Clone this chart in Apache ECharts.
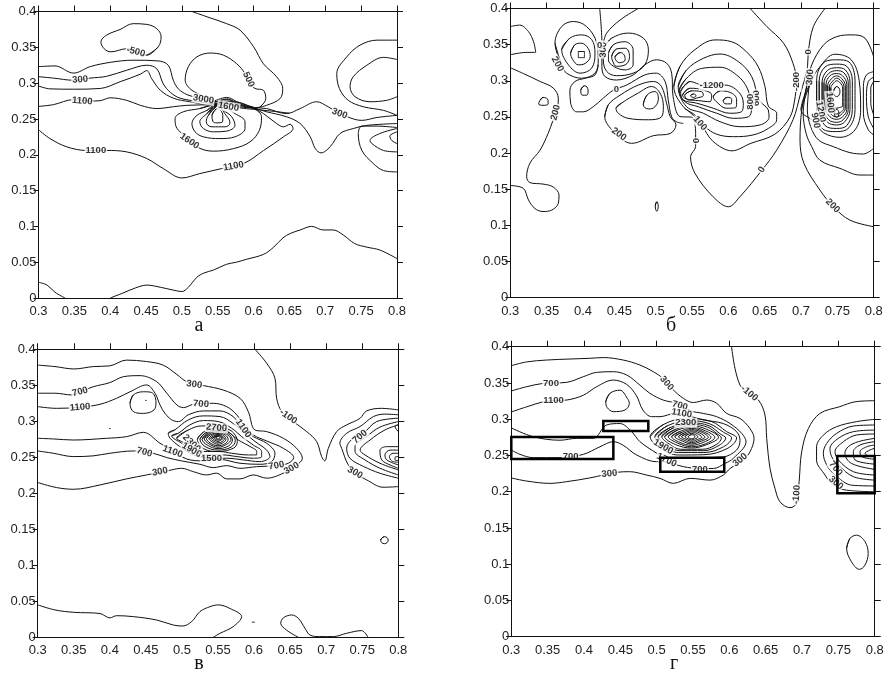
<!DOCTYPE html>
<html><head><meta charset="utf-8">
<style>html,body{margin:0;padding:0;background:#fff}#c{width:889px;height:674px}</style>
<script src="https://cdn.jsdelivr.net/npm/echarts@6/dist/echarts.min.js"></script>
</head><body><div id="c"></div>
<script>
const captions=['а','б','в','г'];
const xTicks={min:.3,max:.8,step:.05};
const yTicks={min:0,max:.4,step:.05};

/* ---------- panel а ---------- */
const aOpen=[
[[.3,.022],[.312,.018],[.323,.008],[.337,0]],
[[.4,0],[.418,.007],[.435,.014],[.451,.018],[.47,.015],[.488,.011],[.5,.009],[.509,.015],[.521,.029],[.531,.035],[.544,.039],[.562,.047],[.576,.05],[.59,.054],[.614,.061],[.628,.071],[.641,.084],[.651,.09],[.665,.095],[.681,.1],[.697,.095],[.711,.095],[.725,.088],[.741,.076],[.758,.071],[.776,.067],[.8,.055]],
[[.3,.323],[.323,.324],[.349,.314],[.372,.323],[.4,.329],[.432,.332],[.467,.331],[.481,.325],[.488,.304],[.495,.292],[.507,.284],[.525,.279],[.544,.274],[.5625,.277],[.581,.2706],[.6,.266],[.618,.2645],[.646,.2575],[.665,.2645],[.688,.274],[.704,.267],[.7205,.2575],[.751,.248],[.772,.252],[.8,.255]],
[[.3,.309],[.321,.307],[.349,.304],[.372,.307],[.395,.3095],[.423,.318],[.451,.325],[.465,.32],[.474,.299],[.484,.287],[.4975,.279],[.525,.274],[.544,.2715],[.5625,.275],[.581,.2687],[.6,.2653],[.618,.26],[.646,.253],[.665,.2435],[.679,.225],[.686,.2086],[.694,.2026],[.7066,.211],[.7205,.2296],[.739,.2366],[.758,.241],[.8,.2436]],
[[.3,.296],[.316,.292],[.349,.2915],[.386,.2925],[.414,.302],[.442,.3125],[.451,.3175],[.458,.306],[.47,.29],[.488,.279],[.511,.274],[.544,.269],[.5625,.2724],[.581,.267],[.6,.2645],[.6137,.2575],[.632,.2436],[.6416,.239],[.651,.2426],[.655,.2366],[.6416,.225],[.614,.206],[.586,.1877],[.5556,.1807],[.525,.1737],[.5,.1676],[.474,.1807],[.451,.1947],[.423,.204],[.395,.206],[.367,.206],[.3395,.211],[.316,.2226],[.3,.235]],
[[.3,.2675],[.321,.27],[.349,.277],[.372,.275],[.386,.2755],[.4,.2795],[.423,.276],[.442,.269],[.465,.2645],[.488,.267],[.507,.269],[.544,.27],[.5625,.271],[.581,.2655],[.6,.2635],[.62,.2615],[.65,.258]],
[[.544,.2745],[.5625,.28],[.581,.272],[.6,.2665]],
[[.544,.272],[.5625,.278],[.581,.2695],[.6,.265]],
[[.544,.276],[.525,.284],[.511,.2925],[.5045,.304],[.509,.323],[.521,.3367],[.539,.342],[.558,.339],[.5765,.327],[.588,.3134],[.593,.302],[.602,.2925],[.6137,.29],[.617,.2785],[.609,.267],[.6,.2645]],
[[.514,.4],[.535,.3926],[.5625,.383],[.581,.374],[.6,.3507],[.6137,.327],[.632,.309],[.6406,.2925],[.637,.2785],[.618,.269],[.6,.2645]],
[[.8,.36],[.772,.36],[.7484,.353],[.73,.3367],[.716,.3134],[.7196,.2925],[.732,.276],[.753,.267],[.781,.262],[.8,.255]],
[[.8,.333],[.781,.336],[.758,.325],[.739,.309],[.7345,.295],[.7415,.281],[.7624,.274],[.7856,.276],[.8,.281]],
[[.8,.238],[.772,.24],[.751,.24],[.746,.2296],[.751,.206],[.767,.1877],[.781,.178],[.8,.176]],
[[.8,.204],[.781,.206],[.765,.2156],[.7624,.22],[.776,.2296],[.8,.2366]],
[[.8,.2156],[.7926,.22],[.79,.226],[.8,.232]]
];
const aLoops=[
[[.451,.339],[.467,.3507],[.471,.3646],[.465,.376],[.451,.382],[.432,.383],[.414,.375],[.395,.367],[.387,.3576],[.3916,.348],[.401,.3437],[.423,.348]],
[[.549,.2715],[.525,.2645],[.502,.26],[.4905,.2505],[.492,.239],[.5,.2296],[.521,.211],[.544,.205],[.572,.2086],[.595,.218],[.608,.234],[.611,.253],[.6,.2645],[.572,.274]],
[[.549,.2705],[.535,.262],[.521,.255],[.514,.2436],[.5184,.232],[.53,.225],[.553,.2226],[.574,.225],[.588,.2366],[.588,.246],[.574,.2575]],
[[.549,.269],[.535,.2575],[.525,.246],[.53,.2366],[.544,.232],[.5625,.233],[.574,.241],[.5695,.253],[.558,.262]],
[[.549,.268],[.537,.255],[.534,.246],[.542,.239],[.56,.239],[.567,.2445],[.5616,.255]],
[[.549,.2645],[.542,.255],[.543,.247],[.549,.2445],[.557,.247],[.557,.255]]
];
const aLabels=[
[.4357,.3437,'-500',-15],[.358,.305,'300',5],[.361,.275,'1100',-5],[.53,.2775,'3000',-10],[.565,.267,'1600',-10],
[.593,.305,'500',-65],[.72,.2575,'300',-20],[.38,.206,'1100',0],[.572,.184,'1100',10],[.5105,.219,'1600',-35]
];

/* ---------- panel б ---------- */
const bOpen=[
[[.3,.375],[.313,.377],[.325,.368],[.332,.354],[.335,.3395],[.318,.339],[.3,.336]],
[[.3,.318],[.318,.31],[.341,.299],[.359,.29],[.366,.276],[.365,.26],[.358,.243],[.352,.227],[.341,.204],[.327,.186],[.3225,.167],[.327,.159],[.345,.157],[.359,.153],[.367,.142],[.366,.13],[.357,.121],[.345,.119],[.334,.123],[.325,.135],[.318,.151],[.3,.155]],
[[.423,.4],[.426,.352],[.426,.32],[.43,.306],[.446,.301],[.469,.308],[.485,.322],[.501,.329],[.515,.3243],[.522,.3105],[.524,.278],[.5335,.2504],[.5495,.2495],[.555,.227],[.555,.209],[.548,.195],[.554,.172],[.579,.1395],[.6,.1256],[.616,.1395],[.646,.176],[.6665,.204],[.689,.246],[.6995,.283],[.709,.32],[.71,.34],[.717,.375],[.733,.4]],
[[.476,.4],[.451,.384],[.4326,.366],[.428,.352]],
[[.421,.322],[.4165,.308],[.403,.3035],[.389,.299],[.382,.287],[.383,.269],[.391,.257],[.4005,.257],[.414,.264],[.428,.276],[.442,.287],[.46,.294],[.485,.308],[.501,.3105],[.513,.299],[.5174,.273],[.522,.25],[.529,.243],[.538,.241]],
[[.63,.4],[.653,.375],[.676,.352],[.689,.324],[.694,.299],[.692,.278],[.685,.25],[.664,.226],[.63,.213],[.605,.203],[.579,.216],[.563,.239],[.554,.25],[.54,.262]],
[[.8,.333],[.788,.359],[.77,.3635],[.749,.361],[.731,.3496],[.7147,.322],[.7087,.2965],[.701,.2596],[.6986,.218],[.704,.1857],[.726,.1487],[.7445,.1256],[.7674,.107],[.8,.098]],
[[.8,.1695],[.781,.1695],[.7536,.1787],[.726,.19],[.7147,.2088],[.707,.227],[.703,.255],[.7087,.2965]],
[[.8,.2065],[.7858,.1986],[.7674,.2005],[.7445,.2088],[.724,.218],[.7133,.2365],[.7087,.2596],[.7115,.2965]],
[[.8,.3127],[.79,.308],[.7858,.292],[.7858,.255],[.7926,.232],[.8,.225]],
[[.8,.305],[.7926,.299],[.79,.278],[.7926,.25],[.8,.234]],
[[.8,.299],[.796,.29],[.796,.269],[.8,.2526]]
];
const bLoops=[
[[.341,.273],[.345,.277],[.352,.273],[.352,.268],[.345,.266],[.339,.268]],
[[.3707,.322],[.3615,.352],[.3707,.375],[.3867,.382],[.405,.375],[.419,.352],[.421,.329],[.4165,.3105],[.398,.3035],[.3775,.3105]],
[[.3707,.343],[.382,.359],[.398,.3635],[.412,.357],[.4165,.338],[.412,.3175],[.396,.3105],[.38,.322]],
[[.383,.338],[.389,.35],[.398,.352],[.407,.345],[.41,.3335],[.403,.324],[.3936,.322],[.386,.329]],
[[.3936,.3405],[.402,.3405],[.402,.332],[.3936,.332]],
[[.43,.3474],[.4395,.359],[.4624,.366],[.483,.359],[.49,.343],[.485,.322],[.469,.3105],[.446,.307],[.4326,.313],[.428,.329]],
[[.435,.338],[.442,.35],[.458,.354],[.469,.343],[.469,.322],[.458,.315],[.442,.32],[.435,.329]],
[[.4395,.3335],[.446,.344],[.458,.345],[.464,.3335],[.458,.322],[.446,.32],[.441,.327]],
[[.444,.333],[.451,.339],[.4564,.336],[.458,.329],[.45,.325],[.445,.329]],
[[.397,.287],[.402,.293],[.407,.287],[.405,.28],[.3995,.28]],
[[.43,.25],[.435,.267],[.451,.28],[.476,.294],[.497,.299],[.508,.292],[.515,.269],[.52,.2504],[.528,.239],[.52,.227],[.497,.224],[.467,.2134],[.453,.219],[.4395,.232]],
[[.4454,.262],[.453,.269],[.476,.283],[.4945,.292],[.506,.283],[.5106,.264],[.508,.25],[.49,.246],[.462,.248],[.4486,.255]],
[[.483,.267],[.488,.28],[.499,.285],[.5037,.276],[.499,.264],[.49,.261]],
[[.525,.292],[.5335,.32],[.554,.343],[.5816,.3565],[.6046,.354],[.625,.34],[.641,.3196],[.6504,.292],[.655,.265],[.6665,.255],[.6665,.246],[.655,.234],[.634,.225],[.607,.2226],[.584,.226],[.568,.2364],[.554,.2526],[.538,.264]],
[[.531,.292],[.5426,.315],[.5656,.331],[.5885,.337],[.6137,.3265],[.632,.306],[.6426,.273],[.655,.2595],[.656,.2494],[.6435,.2388],[.616,.2364],[.5885,.2434],[.5656,.255],[.5426,.264]],
[[.5325,.287],[.5426,.3034],[.563,.317],[.5885,.3187],[.6114,.308],[.626,.2896],[.632,.262],[.6275,.25],[.607,.248],[.584,.255],[.5587,.264],[.54,.271]],
[[.5344,.285],[.547,.299],[.5656,.294],[.5954,.294],[.6137,.285],[.6206,.269],[.618,.257],[.602,.255],[.5793,.262],[.5564,.269],[.538,.2734]],
[[.537,.28],[.547,.2896],[.5656,.287],[.577,.28],[.5747,.271],[.5587,.2725],[.545,.274]],
[[.54,.28],[.5495,.286],[.563,.285],[.5656,.28],[.5564,.276],[.545,.2734]],
[[.548,.2794],[.552,.2817],[.5555,.2794],[.552,.277]],
[[.5793,.278],[.5885,.286],[.602,.284],[.6114,.2734],[.6105,.263],[.5977,.262],[.586,.2688]],
[[.593,.2725],[.5986,.277],[.6046,.274],[.6036,.268],[.5968,.268]],
[[.7,.26],[.7145,.3],[.725,.318],[.7466,.3367],[.769,.329],[.78,.3],[.782,.26],[.7743,.232],[.7536,.2217],[.731,.228],[.7185,.243]],
[[.7215,.26],[.7215,.3],[.73,.324],[.749,.329],[.766,.326],[.7743,.3],[.7743,.26],[.766,.235],[.749,.2296],[.73,.233]],
[[.725,.26],[.725,.3],[.733,.319],[.749,.323],[.763,.32],[.7706,.3],[.7706,.26],[.763,.238],[.749,.234],[.733,.238]],
[[.729,.26],[.729,.298],[.736,.314],[.749,.318],[.761,.315],[.7674,.298],[.7674,.26],[.76,.243],[.749,.2388],[.736,.243]],
[[.7316,.26],[.7316,.297],[.738,.31],[.749,.314],[.759,.311],[.765,.297],[.765,.26],[.758,.246],[.749,.2425],[.738,.246]],
[[.7344,.26],[.7344,.295],[.74,.307],[.749,.31],[.757,.307],[.763,.295],[.763,.26],[.757,.25],[.749,.2466],[.74,.25]],
[[.7367,.262],[.7367,.293],[.742,.303],[.749,.3067],[.756,.303],[.761,.293],[.761,.262],[.755,.253],[.749,.25],[.742,.253]],
[[.739,.262],[.739,.292],[.744,.3],[.749,.3035],[.755,.3],[.759,.292],[.759,.262],[.754,.256],[.749,.254],[.744,.256]],
[[.741,.265],[.741,.29],[.745,.297],[.749,.3],[.754,.297],[.7573,.29],[.7573,.265],[.753,.263],[.749,.262],[.745,.263]],
[[.7445,.285],[.749,.292],[.7536,.285],[.749,.278]],
[[.746,.255],[.749,.2605],[.752,.255],[.749,.2494]],
[[.4995,.1265],[.5015,.1325],[.5035,.1265],[.5015,.1195]]
];
const bLabels=[
[.365,.323,'200',-60],[.3624,.256,'200',75],[.428,.343,'300',88],[.423,.349,'0',0],[.446,.288,'0',0],[.4495,.226,'200',-35],
[.577,.293,'-1200',0],[.639,.276,'600',90],[.63,.271,'800',90],[.561,.241,'100',-50],[.5555,.217,'0',90],[.646,.177,'0',60],
[.694,.299,'-200',90],[.71,.34,'0',90],[.7124,.305,'300',85],[.7435,.127,'200',-45],[.74,.27,'1600',-85],[.727,.257,'1200',-80],[.72,.245,'900',-80]
];

/* ---------- panel в ---------- */
const cOpen=[
[[.3,.378],[.324,.376],[.35,.3727],[.377,.376],[.4,.377],[.423,.385],[.451,.383],[.474,.378],[.493,.365],[.5066,.355],[.53,.3496],[.557,.3435],[.5805,.332],[.592,.3135],[.601,.288],[.6175,.2857],[.6406,.2764],[.659,.2625],[.667,.2486],[.659,.239],[.645,.23],[.6175,.221],[.599,.2255],[.5805,.22],[.562,.22],[.548,.228],[.534,.2255],[.516,.23],[.4996,.2347],[.479,.231],[.451,.2255],[.423,.22],[.3864,.2116],[.35,.2056],[.326,.208],[.3,.215]],
[[.3,.339],[.324,.339],[.347,.3366],[.359,.341],[.377,.348],[.4,.3537],[.419,.362],[.442,.3634],[.465,.355],[.479,.339],[.493,.3227],[.502,.319],[.516,.3236],[.5435,.325],[.562,.3204],[.576,.309],[.5874,.2926],[.599,.281],[.6175,.2727],[.6406,.2625],[.655,.2496],[.6475,.2417],[.631,.2384],[.6036,.237],[.5805,.2347],[.562,.2384],[.5435,.2357],[.525,.2403],[.4996,.245],[.479,.2496],[.46,.2556],[.4326,.2588],[.4,.2556],[.377,.252],[.3494,.251],[.3217,.2556],[.3,.2588]],
[[.3,.3204],[.326,.318],[.3587,.3195],[.3864,.3236],[.4095,.332],[.428,.341],[.451,.3505],[.4627,.339],[.4696,.3227],[.4765,.311],[.4858,.302],[.495,.2996],[.5089,.309],[.5297,.3144],[.5528,.3144],[.571,.3065],[.585,.2903],[.599,.2787],[.6175,.2695],[.629,.2556],[.6244,.244],[.608,.2403],[.5805,.2417],[.5528,.247],[.5297,.245],[.5066,.2477],[.4858,.26],[.4696,.2695],[.4465,.2847],[.4234,.2787],[.3957,.2764],[.3494,.274],[.3217,.2755],[.3,.2764]],
[[.6013,.4],[.6175,.3806],[.629,.3597],[.6313,.332],[.6383,.3135],[.6544,.2996],[.673,.2857],[.6868,.2718],[.6937,.251],[.698,.245],[.703,.2625],[.7145,.2857],[.7284,.295],[.7468,.304],[.756,.3144],[.777,.318],[.8,.3158]],
[[.8,.2093],[.779,.2084],[.756,.2187],[.7446,.2255],[.7307,.2394],[.7215,.2625],[.719,.2695],[.7284,.2834],[.747,.2927],[.7654,.3065],[.7815,.31],[.8,.309]],
[[.8,.221],[.7746,.2278],[.7515,.2374],[.733,.2486],[.7284,.2626],[.735,.2744],[.7515,.2834],[.77,.2996],[.8,.3043]],
[[.8,.2255],[.7746,.2348],[.7538,.2464],[.74,.2583],[.74,.265],[.756,.2788],[.7746,.292],[.8,.2996]],
[[.8,.2325],[.7746,.2417],[.7538,.2533],[.747,.26],[.7608,.274],[.7815,.288],[.8,.295]],
[[.8,.2648],[.7839,.2648],[.7746,.26],[.777,.2464],[.7885,.2394],[.8,.2348]],
[[.8,.26],[.7885,.26],[.7815,.2533],[.7839,.2464],[.8,.2394]],
[[.8,.2556],[.793,.2556],[.7876,.251],[.7908,.245],[.8,.243]],
[[.8,.251],[.7954,.25],[.7954,.2464],[.8,.2454]],
[[.8,.2954],[.7954,.2927],[.8,.2857]],
[[.3,.045],[.324,.038],[.35,.0347],[.3864,.033],[.4,.027],[.4095,.03],[.4326,.0287],[.465,.024],[.488,.017],[.501,.0157],[.5135,.0218],[.525,.0357],[.539,.0426],[.5505,.045],[.5666,.04],[.5828,.0287],[.571,.0148],[.5528,.0055],[.5435,0]],
[[.6614,0],[.645,.01],[.637,.0194],[.6406,.027],[.652,.031],[.6614,.0264],[.6706,.0125],[.6775,.0032],[.691,.001],[.71,.001],[.7284,.0056],[.749,.0093],[.758,0]],
[[.399,.29],[.401,.29]],[[.449,.329],[.451,.329]],[[.597,.021],[.601,.021]]
];
const cLoops=[
[[.428,.325],[.4326,.3366],[.4465,.341],[.458,.34],[.464,.327],[.4613,.3158],[.4465,.311],[.4326,.3135]],
[[.481,.2834],[.49,.288],[.509,.302],[.5297,.3075],[.5528,.3065],[.571,.297],[.5874,.2834],[.6013,.272],[.6175,.26],[.622,.251],[.608,.244],[.585,.2464],[.562,.2487],[.539,.2487],[.516,.2533],[.497,.265],[.4835,.2765]],
[[.4858,.2797],[.495,.2834],[.511,.295],[.5297,.301],[.5505,.2996],[.569,.2903],[.5828,.2788],[.599,.267],[.6105,.258],[.6105,.251],[.599,.2487],[.576,.251],[.5574,.2533],[.5343,.2533],[.5158,.258],[.4996,.2695]],
[[.4927,.2765],[.509,.288],[.5274,.2936],[.5505,.2936],[.5666,.2834],[.5782,.274],[.5944,.265],[.6036,.258],[.6036,.2533],[.592,.2533],[.569,.2556],[.5528,.258],[.5297,.258],[.5135,.265],[.4996,.2718]],
[[.5214,.275],[.53,.285],[.549,.291],[.568,.287],[.5768,.272],[.572,.263],[.55,.258],[.53,.262]],
[[.525,.275],[.533,.284],[.55,.288],[.566,.284],[.574,.273],[.568,.264],[.55,.26],[.532,.265]],
[[.528,.275],[.535,.283],[.55,.287],[.564,.283],[.57,.274],[.565,.266],[.55,.262],[.535,.267]],
[[.531,.276],[.537,.282],[.55,.286],[.562,.282],[.568,.275],[.562,.268],[.55,.264],[.537,.269]],
[[.534,.276],[.539,.281],[.55,.284],[.56,.281],[.564,.275],[.56,.269],[.55,.266],[.539,.27]],
[[.5375,.276],[.541,.28],[.55,.283],[.558,.28],[.561,.275],[.558,.271],[.55,.268],[.541,.272]],
[[.54,.276],[.543,.279],[.55,.282],[.556,.279],[.559,.276],[.556,.272],[.55,.27],[.543,.273]],
[[.5426,.276],[.545,.279],[.55,.281],[.554,.279],[.557,.276],[.554,.274],[.55,.272],[.545,.274]],
[[.545,.277],[.55,.28],[.555,.277],[.55,.274]],
[[.547,.277],[.55,.279],[.553,.277],[.55,.2755]],
[[.7755,.135],[.7806,.1398],[.786,.135],[.7806,.13]]
];
const cLabels=[
[.517,.351,'300',-8],[.3587,.341,'700',15],[.3587,.3195,'1100',5],[.5264,.324,'700',-5],[.585,.29,'1100',-55],[.6475,.3065,'-100',-35],
[.7468,.2787,'700',40],[.74,.2287,'300',-30],[.548,.291,'2700',-5],[.5135,.2695,'2300',-45],[.5135,.26,'1900',-30],[.487,.258,'1100',-20],
[.4479,.257,'700',-15],[.541,.2486,'1500',0],[.631,.2384,'700',10],[.652,.2347,'300',30],[.4696,.23,'300',10]
];

/* ---------- panel г ---------- */
const dOpen=[
[[.3,.3738],[.321,.379],[.3486,.3816],[.3807,.383],[.408,.384],[.4266,.385],[.454,.3816],[.477,.3747],[.4954,.3655],[.509,.356],[.5206,.3426],[.5367,.3288],[.5504,.323],[.5688,.3264],[.5825,.322],[.5963,.308],[.6147,.301],[.6284,.287],[.634,.2736],[.6284,.255],[.619,.2437],[.601,.232],[.5917,.223],[.5734,.216],[.546,.2184],[.523,.2115],[.5046,.2184],[.486,.223],[.463,.2276],[.445,.2267],[.408,.219],[.376,.2138],[.353,.2115],[.321,.2147],[.3,.219]],
[[.3,.3389],[.321,.3448],[.344,.3494],[.376,.3508],[.399,.3586],[.4174,.3646],[.4404,.3655],[.4587,.361],[.477,.347],[.4908,.3356],[.509,.3264],[.5275,.3218],[.546,.3117],[.564,.308],[.5825,.3035],[.601,.294],[.617,.2805],[.623,.269],[.6055,.246],[.594,.239],[.578,.232],[.5596,.232],[.5367,.2345],[.509,.2414],[.5,.2414],[.4725,.2506],[.454,.264],[.4404,.269],[.422,.262],[.399,.2515],[.367,.247],[.33,.247],[.312,.2515],[.3,.2575]],
[[.3,.31],[.321,.317],[.344,.324],[.358,.3255],[.376,.3264],[.399,.333],[.4174,.3448],[.4404,.354],[.4587,.348],[.472,.3328],[.481,.3127],[.493,.3035],[.5046,.3035],[.525,.308],[.546,.304],[.564,.299],[.5917,.294],[.61,.2828],[.6147,.271],[.61,.2575],[.5917,.248],[.564,.247],[.532,.246],[.509,.247],[.5,.253],[.477,.269],[.4656,.2828],[.4495,.294],[.431,.292],[.4128,.2736],[.39,.2736],[.367,.271],[.33,.2759],[.3,.288]],
[[.603,.4],[.6078,.37],[.6147,.347],[.6215,.34],[.64,.3264],[.649,.3058],[.6514,.2736],[.656,.232],[.6628,.2046],[.6697,.186],[.6835,.178],[.6926,.184],[.696,.2138],[.6995,.255],[.7087,.287],[.7247,.308],[.752,.3173],[.773,.324],[.8,.3255]],
[[.8,.2998],[.775,.2966],[.7477,.2897],[.7293,.278],[.72,.2617],[.72,.2436],[.7316,.223],[.7385,.2138],[.7546,.2033],[.8,.2]],
[[.8,.292],[.7706,.2906],[.7477,.2805],[.734,.2667],[.7293,.2529],[.734,.2368],[.7454,.223],[.7683,.209],[.8,.2079]],
[[.8,.285],[.7706,.2828],[.75,.2736],[.7385,.2598],[.7408,.2483],[.75,.2368],[.7706,.2207],[.8,.216]],
[[.8,.2796],[.775,.2782],[.757,.269],[.7454,.2552],[.75,.2437],[.7706,.2276],[.8,.223]],
[[.8,.2736],[.7775,.269],[.7637,.2621],[.759,.2529],[.768,.239],[.8,.2308]],
[[.8,.269],[.7798,.2644],[.7706,.2552],[.773,.2437],[.8,.238]],
[[.8,.2644],[.789,.262],[.7798,.2552],[.782,.2483],[.8,.2447]],
[[.8,.2598],[.7935,.2575],[.7867,.2529],[.791,.2497],[.8,.249]]
];
const dLoops=[
[[.43,.324],[.4358,.3357],[.4495,.34],[.4596,.3288],[.4624,.3219],[.4564,.3127],[.4404,.3104],[.432,.316]],
[[.491,.276],[.51,.293],[.54,.301],[.575,.297],[.596,.283],[.61,.274],[.598,.26],[.565,.251],[.53,.2506],[.505,.26]],
[[.4976,.276],[.515,.291],[.545,.298],[.572,.294],[.592,.282],[.603,.274],[.592,.262],[.565,.254],[.53,.254],[.51,.263]],
[[.502,.276],[.52,.289],[.548,.295],[.572,.291],[.587,.28],[.595,.274],[.586,.264],[.565,.2566],[.532,.2566],[.513,.265]],
[[.507,.276],[.523,.288],[.548,.293],[.57,.289],[.583,.28],[.589,.274],[.582,.265],[.563,.2585],[.533,.2585],[.517,.266]],
[[.511,.276],[.526,.286],[.548,.291],[.569,.286],[.585,.275],[.569,.265],[.548,.2603],[.526,.265]],
[[.516,.276],[.529,.285],[.548,.289],[.567,.284],[.58,.275],[.567,.266],[.548,.262],[.529,.267]],
[[.5206,.276],[.532,.283],[.548,.2874],[.564,.283],[.5747,.275],[.564,.268],[.548,.264],[.532,.268]],
[[.525,.276],[.535,.282],[.548,.2856],[.562,.282],[.571,.275],[.562,.27],[.548,.2658],[.535,.27]],
[[.53,.276],[.538,.281],[.548,.284],[.559,.281],[.5664,.275],[.559,.271],[.548,.2676],[.538,.271]],
[[.534,.276],[.541,.28],[.548,.2824],[.556,.28],[.562,.275],[.556,.272],[.548,.2695],[.541,.272]],
[[.539,.276],[.543,.279],[.548,.2805],[.553,.279],[.557,.2755],[.553,.273],[.548,.2713],[.543,.273]],
[[.5435,.276],[.548,.2787],[.5527,.276],[.548,.273]],
[[.7614,.1218],[.766,.1356],[.775,.14],[.7867,.131],[.791,.115],[.7867,.0989],[.779,.0929],[.768,.1035]]
];
const dBoxes=[
[[.3,.2754],[.4404,.2754],[.4404,.245],[.3,.245],[.3,.2754]],
[[.4266,.2975],[.4885,.2975],[.4885,.2837],[.4266,.2837],[.4266,.2975]],
[[.505,.2469],[.593,.2469],[.593,.2276],[.505,.2276],[.505,.2469]],
[[.7486,.2492],[.8,.2492],[.8,.198],[.7486,.198],[.7486,.2492]]
];
const dLabels=[
[.5138,.3494,'300',-50],[.3546,.3494,'700',0],[.358,.3255,'1100',0],[.532,.3186,'700',-15],[.5344,.308,'1100',-10],[.54,.295,'2300',0],
[.509,.262,'1900',-30],[.5138,.2437,'1700',-25],[.5596,.231,'700',0],[.3816,.249,'700',0],[.435,.225,'300',5],[.6147,.2437,'300',40],
[.6275,.3356,'-100',-40],[.6926,.196,'-100',85],[.7463,.232,'700',-50],[.7468,.2124,'300',-40]
];

/* ---------- assembly ---------- */
const panels=[
 {open:aOpen,loops:aLoops,labels:aLabels,boxes:[],grid:{left:38.5,top:11.5,width:358.5,height:286.5},cap:[199,316]},
 {open:bOpen,loops:bLoops,labels:bLabels,boxes:[],grid:{left:510.3,top:8.5,width:363.4,height:289},cap:[671,316]},
 {open:cOpen,loops:cLoops,labels:cLabels,boxes:[],grid:{left:37.7,top:349.3,width:360.6,height:288},cap:[199,654]},
 {open:dOpen,loops:dLoops,labels:dLabels,boxes:dBoxes,grid:{left:511.3,top:346.7,width:363.4,height:290},cap:[674,654]}
];
const ink='#111';
const font='"Liberation Sans",Arial,sans-serif';
const grids=[],xAxes=[],yAxes=[],series=[],titles=[];
panels.forEach((p,i)=>{
  grids.push(p.grid);
  titles.push({text:captions[i],left:p.cap[0],top:p.cap[1],textAlign:'center',padding:0,
    textStyle:{fontFamily:'"Liberation Serif",serif',fontSize:20,fontWeight:'normal',color:ink}});
  const ax=(extra,t)=>Object.assign({type:'value',gridIndex:i,min:t.min,max:t.max,interval:t.step,splitLine:{show:false},
    axisLine:{show:true,onZero:false,lineStyle:{color:ink,width:1}},
    axisTick:{show:true,length:5,lineStyle:{color:ink,width:1}},
    axisLabel:{show:true,color:'#222',fontFamily:font,fontSize:13,margin:2,showMinLabel:true,showMaxLabel:true,hideOverlap:false}},extra);
  xAxes.push(ax({position:'bottom',axisTick:{show:false},axisLabel:{show:true,color:'#222',fontFamily:font,fontSize:13,margin:7,showMinLabel:true,showMaxLabel:true}},xTicks));
  xAxes.push(ax({position:'top',axisLabel:{show:false},axisTick:{show:true,length:6,lineStyle:{color:ink,width:1}}},xTicks));
  yAxes.push(ax({position:'left',axisLabel:{show:true,color:'#222',fontFamily:font,fontSize:13,margin:2,showMinLabel:true,showMaxLabel:true}},yTicks));
  yAxes.push(ax({position:'right',axisLabel:{show:false},axisTick:{show:true,length:6,lineStyle:{color:ink,width:1}}},yTicks));
  const line=(pts,w,smooth)=>series.push({type:'line',xAxisIndex:i*2,yAxisIndex:i*2,data:pts,showSymbol:false,symbol:'none',
    smooth:smooth,silent:true,animation:false,z:3,lineStyle:{color:ink,width:w}});
  p.open.forEach(c=>line(c,1,.35));
  p.loops.forEach(c=>line(c.concat([c[0],c[1]]),1,c.length<=5?.55:c.length<=7?.45:.37));
  series.push({type:'scatter',xAxisIndex:i*2,yAxisIndex:i*2,symbolSize:0,silent:true,animation:false,z:5,
    data:p.labels.map(r=>({value:[r[0],r[1]],label:{show:true,position:'inside',formatter:r[2],rotate:r[3],
      color:'#000',fontFamily:font,fontSize:9.5,fontWeight:'bold',backgroundColor:'#fff',padding:[0,1]}}))});
  p.boxes.forEach(c=>series.push({type:'line',xAxisIndex:i*2,yAxisIndex:i*2,data:c,showSymbol:false,symbol:'none',
    silent:true,animation:false,z:6,clip:false,lineStyle:{color:'#000',width:2.5,cap:'square',join:'miter'}}));
});
const chart=echarts.init(document.getElementById('c'),null,{renderer:'canvas'});
chart.setOption({animation:false,backgroundColor:'#fff',title:titles,grid:grids,xAxis:xAxes,yAxis:yAxes,series:series});
</script></body></html>
